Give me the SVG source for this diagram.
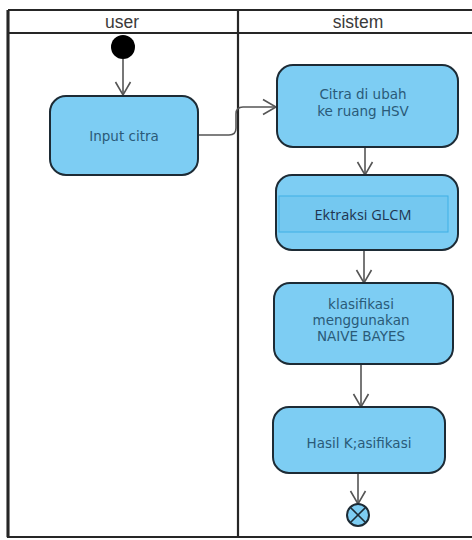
<svg xmlns="http://www.w3.org/2000/svg" width="472" height="540" viewBox="0 0 472 540">
<defs>
<style>
.frame{fill:none;stroke:#262626;stroke-width:2.2}
.box{fill:#7dcdf3;stroke:#1d2b35;stroke-width:2}
.t{font-family:"DejaVu Sans",sans-serif;font-size:13.5px;fill:#2a5a78;text-anchor:middle}
.h{font-family:"Liberation Sans",Arial,sans-serif;font-size:17.5px;fill:#3a3a3a;text-anchor:middle}
.c{fill:none;stroke:#555;stroke-width:1.6}
</style>
<marker id="arr" markerWidth="18" markerHeight="18" viewBox="0 0 18 18" refX="16" refY="9" orient="auto" markerUnits="userSpaceOnUse">
<path d="M3,1.5 L16,9 L3,16.5" fill="none" stroke="#555" stroke-width="1.6"/>
</marker>
</defs>
<rect width="472" height="540" fill="#fff"/>
<g id="lanes">
<path class="frame" d="M8,10 H475 M8,33 H475 M8,10 V537 H475 M238,10 V537"/>
<path d="M8,10 V537" stroke="#262626" stroke-width="3" fill="none"/>
<text class="h" x="122" y="28">user</text>
<text class="h" x="358" y="28">sistem</text>
</g>
<g id="connectors">
<path class="c" d="M123,59 V95" marker-end="url(#arr)"/>
<path class="c" d="M198,135 H229 Q236,135 236,128 V114 Q236,107 243,107 H276" marker-end="url(#arr)"/>
<path class="c" d="M365,148 V175" marker-end="url(#arr)"/>
<path class="c" d="M364,251 V283" marker-end="url(#arr)"/>
<path class="c" d="M361,365 V407" marker-end="url(#arr)"/>
<path class="c" d="M358,474 V504" marker-end="url(#arr)"/>
</g>
<g id="start"><circle cx="123" cy="47" r="12" fill="#000"/></g>
<g id="input"><rect class="box" x="50" y="96" width="148" height="79" rx="16"/>
<text class="t" x="124" y="141">Input citra</text></g>
<g id="hsv"><rect class="box" x="277" y="65" width="181" height="82" rx="16"/>
<text class="t" x="363" y="99">Citra di ubah</text>
<text class="t" x="363" y="116">ke ruang HSV</text></g>
<g id="glcm"><rect class="box" x="276" y="175" width="182" height="75" rx="16"/>
<rect x="279" y="196" width="169" height="36" fill="#74c8f0" stroke="#3fb0e6" stroke-width="1"/>
<text x="363" y="220" font-family="'Open Sans',sans-serif" font-size="14.5" fill="#1f3550" text-anchor="middle">Ektraksi GLCM</text></g>
<g id="nb"><rect class="box" x="274" y="283" width="179" height="81" rx="16"/>
<text class="t" x="361" y="309">klasifikasi</text>
<text class="t" x="361" y="325">menggunakan</text>
<text class="t" x="361" y="341" font-size="15.5">NAIVE BAYES</text></g>
<g id="hasil"><rect class="box" x="273" y="407" width="172" height="66" rx="16"/>
<text class="t" x="359" y="448">Hasil K;asifikasi</text></g>
<g id="end"><circle cx="358" cy="515" r="11" fill="#7dcdf3" stroke="#1d2b35" stroke-width="2"/>
<path d="M350.2,507.2 L365.8,522.8 M365.8,507.2 L350.2,522.8" stroke="#1d2b35" stroke-width="1.6"/></g>
</svg>
